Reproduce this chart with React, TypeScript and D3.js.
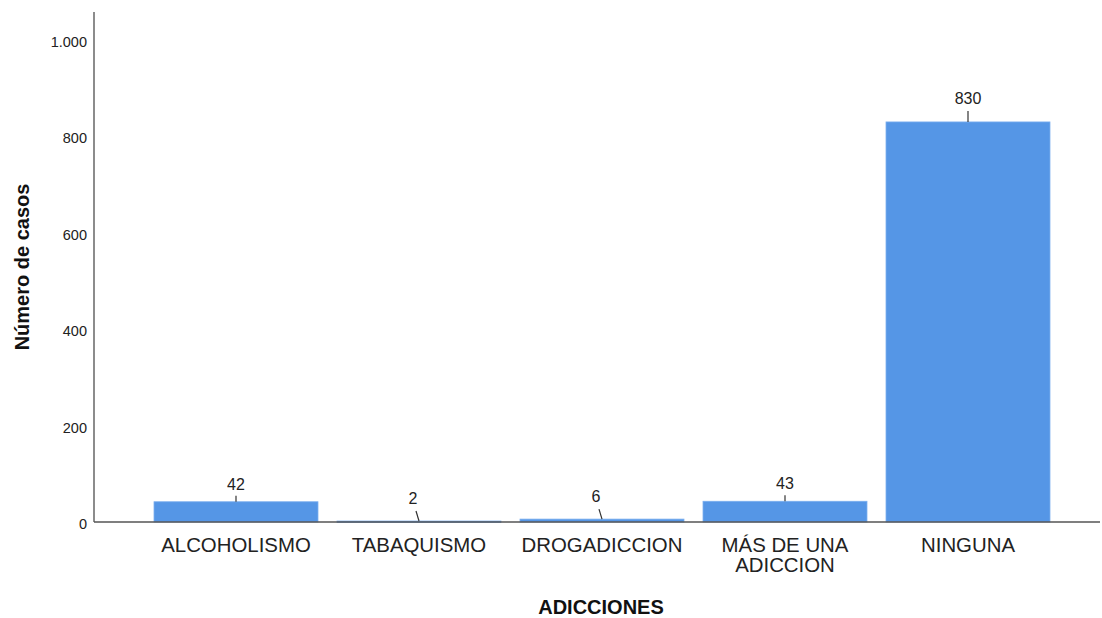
import React from "react";
import * as d3 from "d3";

const categories = ["ALCOHOLISMO", "TABAQUISMO", "DROGADICCION", "MÁS DE UNA ADICCION", "NINGUNA"];
const categoryLines = [["ALCOHOLISMO"], ["TABAQUISMO"], ["DROGADICCION"], ["MÁS DE UNA", "ADICCION"], ["NINGUNA"]];
const values = [42, 2, 6, 43, 830];
const yTicks = [0, 200, 400, 600, 800, 1000];
const yTickLabels = ["0", "200", "400", "600", "800", "1.000"];

const W = 1102;
const H = 618;
const FONT = "Arial, 'Liberation Sans', Helvetica, sans-serif";

export default function App() {
  const axisX = 94;
  const baseY = 522;
  const y = d3.scaleLinear().domain([0, 1000]).range([baseY, 40]);
  const x = d3
    .scaleBand<string>()
    .domain(categories)
    .range([144.5, 1059.5])
    .paddingInner(0.104)
    .paddingOuter(0.052);
  const bw = x.bandwidth();

  return (
    <svg
      width={W}
      height={H}
      style={{ position: "absolute", left: 0, top: 0, background: "#fff" }}
      fontFamily={FONT}
    >
      <rect width={W} height={H} fill="#fff" />
      {/* y tick labels */}
      {yTicks.map((t, i) => (
        <text
          key={t}
          x={87}
          y={y(t) + 2}
          textAnchor="end"
          dominantBaseline="central"
          fontSize={14.5}
          fill="#222"
        >
          {yTickLabels[i]}
        </text>
      ))}
      {/* bars */}
      {categories.map((c, i) => {
        const x0 = x(c)!;
        const top = y(values[i]);
        return (
          <rect
            key={c}
            x={x0}
            y={top}
            width={bw}
            height={Math.max(baseY - top, 1.5)}
            fill="#5596e6"
            stroke="#7aaeef"
            strokeWidth={0.8}
          />
        );
      })}
      {/* axes */}
      <line x1={axisX} x2={axisX} y1={12} y2={baseY} stroke="#8c8c8c" strokeWidth={2} />
      <line x1={axisX} x2={1100} y1={baseY} y2={baseY} stroke="#555" strokeWidth={1.5} />
      {/* value labels */}
      {categories.map((c, i) => {
        const cx = x(c)! + bw / 2;
        const top = y(values[i]);
        const h = baseY - top;
        if (h < 10) {
          return (
            <g key={c}>
              <line x1={cx - 3} y1={top - 10} x2={cx} y2={top} stroke="#333" strokeWidth={1.2} />
              <text x={cx - 6} y={top - 17} textAnchor="middle" fontSize={16} fill="#222">
                {values[i]}
              </text>
            </g>
          );
        }
        const tall = h > 200;
        const lineLen = tall ? 11 : 6;
        const textGap = tall ? 18 : 12;
        return (
          <g key={c}>
            <line x1={cx} y1={top - lineLen} x2={cx} y2={top} stroke="#333" strokeWidth={1.2} />
            <text x={cx} y={top - textGap} textAnchor="middle" fontSize={16} fill="#222">
              {values[i]}
            </text>
          </g>
        );
      })}
      {/* category labels */}
      {categories.map((c, i) => {
        const cx = x(c)! + bw / 2;
        return (
          <text key={c} x={cx} textAnchor="middle" fontSize={20.4} fill="#222">
            {categoryLines[i].map((ln, j) => (
              <tspan key={j} x={cx} y={552 + j * 20}>
                {ln}
              </tspan>
            ))}
          </text>
        );
      })}
      {/* axis titles */}
      <text x={601} y={614} textAnchor="middle" fontSize={20} fontWeight="bold" fill="#111">
        ADICCIONES
      </text>
      <text
        transform={`translate(29, 267) rotate(-90)`}
        textAnchor="middle"
        fontSize={20}
        fontWeight="bold"
        fill="#111"
      >
        Número de casos
      </text>
    </svg>
  );
}
